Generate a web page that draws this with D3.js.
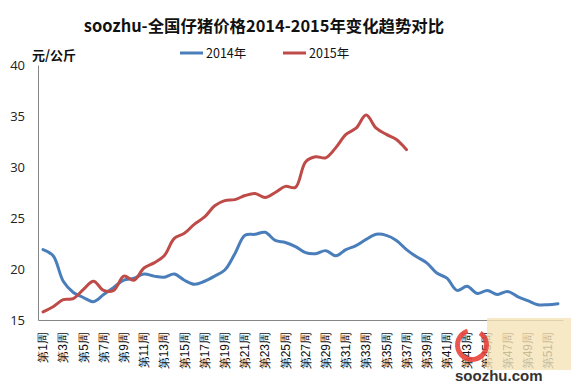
<!DOCTYPE html>
<html><head><meta charset="utf-8">
<script src="https://cdn.jsdelivr.net/npm/d3@7/dist/d3.min.js"></script>
<style>
body{margin:0;background:#fff;}
svg{display:block;font-family:"Noto Sans CJK SC","Noto Sans",sans-serif;}
</style></head>
<body><svg id="c" width="571" height="386"></svg>
<script>
const title = "soozhu-全国仔猪价格2014-2015年变化趋势对比";
const unitLabel = "元/公斤";
const weeks = d3.range(1, 53);
const tickWeeks = d3.range(1, 53, 2);
const yTicks = [15, 20, 25, 30, 35, 40];
const seriesNames = ["2014年", "2015年"];
const colors = ["#4a7ebb", "#be4b48"];
const values2014 = [21.9, 21.3, 18.8, 17.7, 17.2, 16.8, 17.5, 18.2, 18.9, 19.1,
  19.5, 19.3, 19.2, 19.5, 18.9, 18.5, 18.8, 19.3, 19.9, 21.5,
  23.3, 23.4, 23.6, 22.8, 22.6, 22.2, 21.6, 21.5, 21.8, 21.3,
  21.9, 22.3, 22.9, 23.4, 23.3, 22.8, 21.9, 21.2, 20.6, 19.6,
  19.1, 17.9, 18.3, 17.6, 17.9, 17.5, 17.8, 17.3, 16.9, 16.5,
  16.5, 16.6];
const values2015 = [15.8, 16.3, 17.0, 17.1, 18.0, 18.8, 17.9, 17.9, 19.3, 18.9,
  20.1, 20.6, 21.3, 23.0, 23.5, 24.4, 25.1, 26.2, 26.7, 26.8,
  27.2, 27.4, 27.0, 27.5, 28.1, 28.0, 30.5, 31.0, 30.9, 31.9,
  33.2, 33.8, 35.1, 33.8, 33.2, 32.7, 31.7];

const svg = d3.select("#c");
const L = 38, R = 563, T = 65, B = 320;
const x = d3.scaleBand().domain(weeks).range([L, R]).padding(0);
const y = d3.scaleLinear().domain([15, 40]).range([B, T]);

// title
svg.append("text").attr("x", 264).attr("y", 32).attr("text-anchor", "middle")
  .attr("font-size", 16.4).attr("font-weight", "bold").attr("fill", "#111").text(title);
svg.append("text").attr("x", 32).attr("y", 60).attr("font-size", 13)
  .attr("font-weight", "bold").attr("fill", "#111").text(unitLabel);

// legend
const legX = [180, 283];
seriesNames.forEach((n, i) => {
  svg.append("line").attr("x1", legX[i]).attr("x2", legX[i] + 23)
    .attr("y1", 53).attr("y2", 53).attr("stroke", colors[i]).attr("stroke-width", 3);
  svg.append("text").attr("x", legX[i] + 26).attr("y", 58).attr("font-size", 12.5)
    .attr("fill", "#111").text(n);
});

// y axis
const ya = svg.append("g").attr("transform", `translate(${L},0)`)
  .call(d3.axisLeft(y).tickValues(yTicks).tickSize(0).tickSizeOuter(0).tickPadding(13));
ya.select(".domain").attr("stroke", "#868686");
ya.selectAll("text").attr("font-size", 13).attr("fill", "#222")
  .attr("font-family", "'Open Sans','DejaVu Sans',sans-serif");

// x axis
const xa = svg.append("g").attr("transform", `translate(0,${B})`)
  .call(d3.axisBottom(x).tickValues(tickWeeks).tickSize(0).tickSizeOuter(0)
    .tickFormat(d => "第" + d + "周"));
xa.select(".domain").attr("stroke", "#868686");
xa.selectAll("text").attr("font-size", 12).attr("fill", "#111")
  .attr("transform", "rotate(-90)").attr("text-anchor", "end")
  .attr("x", -12).attr("y", 0).attr("dy", "0.35em");

// lines
const line = d3.line().x((d, i) => x(weeks[i]) + x.bandwidth() / 2).y(d => y(d))
  .curve(d3.curveCatmullRom.alpha(0.5));
[values2014, values2015].forEach((vals, i) => {
  svg.append("path").attr("d", line(vals)).attr("fill", "none")
    .attr("stroke", colors[i]).attr("stroke-width", 3).attr("stroke-linejoin", "round")
    .attr("stroke-linecap", "round");
});

// watermark (approximate)
const wm = svg.append("g");
wm.append("rect").attr("x", 487).attr("y", 318).attr("width", 84).attr("height", 52)
  .attr("fill", "#f5e3b8").attr("opacity", 0.8);
wm.append("path").attr("d", d3.arc()({innerRadius: 12, outerRadius: 17,
    startAngle: 0.6, endAngle: 2 * Math.PI - 0.3}))
  .attr("transform", "translate(472,345)").attr("fill", "#e8433a").attr("opacity", 0.9);
wm.append("text").attr("x", 455).attr("y", 381).attr("font-size", 15)
  .attr("font-weight", "bold").attr("fill", "#333")
  .attr("font-family", "Arial,'Liberation Sans'").text("soozhu.com");
</script></body></html>
